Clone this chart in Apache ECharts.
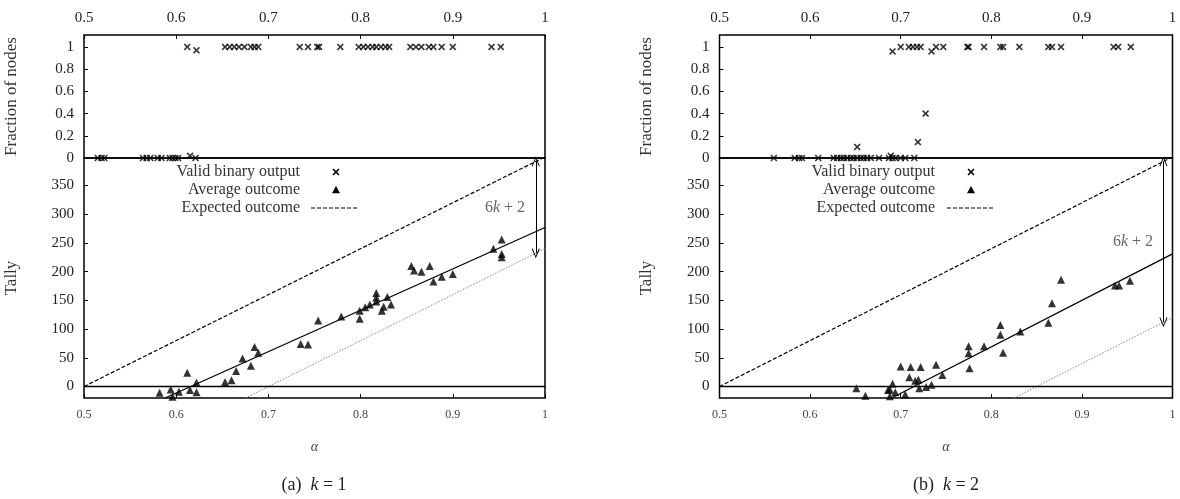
<!DOCTYPE html>
<html>
<head>
<meta charset="utf-8">
<script src="https://cdn.jsdelivr.net/npm/echarts@6/dist/echarts.min.js"></script>
<style>
html, body { margin: 0; padding: 0; background: #fff; }
#main { width: 1180px; height: 499px; }
</style>
</head>
<body>
<div id="main"></div>
<script>
var FONT = '"Liberation Serif", "DejaVu Serif", serif';

// ---- data ----
var fracTicks = [0, 0.2, 0.4, 0.6, 0.8, 1];
var tallyTicks = [0, 50, 100, 150, 200, 250, 300, 350];

// k = 1
var validK1 = [
    [0.515, 0], [0.519, 0], [0.522, 0], [0.564, 0], [0.568, 0], [0.572, 0], [0.580, 0], [0.584, 0],
    [0.593, 0], [0.596, 0], [0.599, 0], [0.602, 0], [0.615, 0.02], [0.621, 0],
    [0.612, 1], [0.622, 0.97], [0.653, 1], [0.658, 1], [0.663, 1], [0.668, 1], [0.674, 1], [0.681, 1],
    [0.685, 1], [0.689, 1], [0.734, 1], [0.743, 1], [0.753, 1], [0.755, 1], [0.778, 1], [0.798, 1],
    [0.803, 1], [0.808, 1], [0.813, 1], [0.817, 1], [0.822, 1], [0.827, 1], [0.831, 1], [0.854, 1],
    [0.860, 1], [0.866, 1], [0.874, 1], [0.879, 1], [0.888, 1], [0.900, 1], [0.942, 1], [0.952, 1]
];
var avgK1 = [
    [0.582, -11], [0.594, -5], [0.596, -18], [0.603, -9], [0.612, 24], [0.615, -6], [0.622, 7],
    [0.622, -10], [0.653, 8], [0.660, 11], [0.665, 27], [0.672, 49], [0.681, 36], [0.685, 69],
    [0.689, 59], [0.735, 74], [0.743, 73], [0.754, 115], [0.779, 122], [0.799, 132], [0.799, 118],
    [0.805, 138], [0.810, 143], [0.817, 163], [0.817, 155], [0.817, 148], [0.823, 132], [0.825, 139],
    [0.829, 156], [0.833, 143], [0.855, 210], [0.858, 202], [0.866, 200], [0.875, 210], [0.879, 183],
    [0.888, 191], [0.900, 196], [0.944, 240], [0.953, 256], [0.953, 231], [0.953, 225]
];
var expectedK1 = [[0.5, 0], [1, 400]];
var lowerK1 = [[0.675, -20], [1, 240]];
var fitK1 = [[0.588, -20], [1, 277]];
var arrowK1 = [[0.99, 392], [0.99, 232]];

// k = 2
var validK2 = [
    [0.560, 0], [0.583, 0], [0.588, 0], [0.591, 0], [0.609, 0], [0.626, 0], [0.630, 0], [0.634, 0],
    [0.637, 0], [0.641, 0], [0.645, 0], [0.648, 0], [0.652, 0], [0.656, 0], [0.659, 0], [0.663, 0],
    [0.667, 0], [0.676, 0], [0.687, 0], [0.689, 0.02], [0.691, 0], [0.694, 0], [0.700, 0], [0.705, 0],
    [0.715, 0], [0.652, 0.10], [0.719, 0.144], [0.7275, 0.40],
    [0.691, 0.96], [0.700, 1], [0.709, 1], [0.7135, 1], [0.718, 1], [0.722, 1], [0.734, 0.96],
    [0.739, 1], [0.747, 1], [0.7735, 1], [0.775, 1], [0.792, 1], [0.810, 1], [0.813, 1], [0.831, 1],
    [0.863, 1], [0.867, 1], [0.877, 1], [0.935, 1], [0.940, 1], [0.954, 1]
];
var avgK2 = [
    [0.651, -3], [0.661, -16], [0.686, -6], [0.688, -5], [0.688, -17], [0.691, 5], [0.694, -10],
    [0.700, 35], [0.705, -14], [0.7095, 16], [0.711, 34], [0.716, 10], [0.7195, 12], [0.7205, -3],
    [0.722, 34], [0.728, -1], [0.734, 3], [0.739, 38], [0.746, 20], [0.775, 70], [0.775, 58],
    [0.776, 32], [0.792, 70], [0.810, 107], [0.810, 90], [0.813, 59], [0.832, 96], [0.863, 111],
    [0.867, 145], [0.877, 186], [0.9365, 176], [0.941, 176], [0.953, 184]
];
var expectedK2 = [[0.5, 0], [1, 400]];
var lowerK2 = [[0.825, -20], [1, 120]];
var fitK2 = [[0.69, -20], [1, 231]];
var arrowK2 = [[0.99, 392], [0.99, 112]];

var zeroLine = [[0.5, 0], [1, 0]];

// ---- chart ----
var CROSS = 'path://M0,1.6L1.6,0L5,3.4L8.4,0L10,1.6L6.6,5L10,8.4L8.4,10L5,6.6L1.6,10L0,8.4L3.4,5Z';
var OPEN_ARROW = 'path://M0,10L5,0L10,10L9,10.6L5,2.4L1,10.6Z';

var grids = [
    { left: 84, top: 35, width: 461, height: 123 },
    { left: 84, top: 158, width: 461, height: 240 },
    { left: 719.5, top: 35, width: 453, height: 123 },
    { left: 719.5, top: 158, width: 453, height: 240 }
];
grids.forEach(function(g) {
    g.show = true;
    g.borderColor = '#000';
    g.borderWidth = 1.5;
    g.containLabel = false;
});

function xAxis(i, top) {
    return {
        type: 'value', gridIndex: i, min: 0.5, max: 1, interval: 0.1,
        position: top ? 'top' : 'bottom',
        axisLine: { show: false, onZero: false },
        axisTick: { show: true, inside: true, length: 4, lineStyle: { color: '#000', width: 1 } },
        splitLine: { show: false },
        axisLabel: {
            show: true, color: top ? '#222' : '#444', fontFamily: FONT,
            fontSize: top ? 15 : 12, margin: top ? 9 : 11,
            formatter: function(v) { return v == 1 ? '1' : v.toFixed(1); }
        },
        name: top ? '' : 'α',
        nameLocation: 'middle', nameGap: 42,
        nameTextStyle: { fontFamily: FONT, fontStyle: 'italic', fontSize: 14, color: '#444' }
    };
}

function yAxis(i, frac) {
    var ticks = frac ? fracTicks : tallyTicks;
    return {
        type: 'value', gridIndex: i,
        min: frac ? 0 : -20, max: frac ? 1.108 : 398,
        axisLine: { show: false, onZero: false },
        axisTick: { show: true, inside: true, length: 4, customValues: ticks, lineStyle: { color: '#000' } },
        splitLine: { show: false },
        axisLabel: { color: '#222', fontFamily: FONT, fontSize: 15, margin: 10, customValues: ticks },
        name: frac ? 'Fraction of nodes' : 'Tally',
        nameLocation: 'middle', nameGap: 64,
        nameTextStyle: { fontFamily: FONT, fontSize: 17, color: '#333' }
    };
}

function lineSeries(data, xi, color, type, width) {
    return {
        type: 'line', data: data, xAxisIndex: xi, yAxisIndex: xi,
        symbol: 'none', clip: true, silent: true,
        lineStyle: { color: color, type: type, width: width }
    };
}

function panelSeries(top, bottom, valid, avg, expected, lower, fit, arrow) {
    var list = [];
    list.push({
        type: 'scatter', data: valid, xAxisIndex: top, yAxisIndex: top,
        symbol: CROSS, symbolSize: 7, itemStyle: { color: '#000' }, clip: false
    });
    list.push(lineSeries(expected, bottom, '#000', [4, 2], 1.2));
    list.push(lineSeries(lower, bottom, '#888', [1.5, 1.5], 1));
    list.push(lineSeries(fit, bottom, '#000', 'solid', 1.3));
    var z = lineSeries(zeroLine, bottom, '#000', 'solid', 1.5);
    z.markLine = {
        silent: true, symbol: [OPEN_ARROW, OPEN_ARROW], symbolSize: [8, 10],
        lineStyle: { color: '#000', type: 'solid', width: 1 },
        itemStyle: { color: '#000' },
        label: { show: false },
        data: [[{ coord: arrow[0] }, { coord: arrow[1] }]]
    };
    list.push(z);
    list.push({
        type: 'scatter', data: avg, xAxisIndex: bottom, yAxisIndex: bottom,
        symbol: 'triangle', symbolSize: 8, itemStyle: { color: '#000' }
    });
    return list;
}

var series = [].concat(
    panelSeries(0, 1, validK1, avgK1, expectedK1, lowerK1, fitK1, arrowK1),
    panelSeries(2, 3, validK2, avgK2, expectedK2, lowerK2, fitK2, arrowK2)
);

function legendGraphics(textRight, symX, lineL, lineR) {
    var names = ['Valid binary output', 'Average outcome', 'Expected outcome'];
    var ys = [172, 190, 208];
    var g = [];
    names.forEach(function(n, i) {
        g.push({
            type: 'text', x: textRight, y: ys[i],
            style: { text: n, textAlign: 'right', textVerticalAlign: 'middle', font: '16px ' + FONT, fill: '#333' }
        });
    });
    g.push({
        type: 'polygon', x: symX, y: ys[0],
        shape: { points: [[-3.5, -2.4], [-2.4, -3.5], [0, -1.1], [2.4, -3.5], [3.5, -2.4], [1.1, 0], [3.5, 2.4], [2.4, 3.5], [0, 1.1], [-2.4, 3.5], [-3.5, 2.4], [-1.1, 0]] },
        style: { fill: '#000' }
    });
    g.push({
        type: 'polygon', x: symX, y: ys[1],
        shape: { points: [[0, -4], [4, 3.2], [-4, 3.2]] },
        style: { fill: '#000' }
    });
    g.push({
        type: 'line', shape: { x1: lineL, y1: ys[2], x2: lineR, y2: ys[2] },
        style: { stroke: '#000', lineWidth: 1.2, lineDash: [4, 2] }
    });
    return g;
}

function richLabel(x, y, text, size, color) {
    return {
        type: 'text', x: x, y: y,
        style: {
            text: text, textAlign: 'center', textVerticalAlign: 'middle',
            font: size + 'px ' + FONT, fill: color,
            rich: {
                i: { fontFamily: FONT, fontStyle: 'italic', fontSize: size, fill: color, color: color }
            }
        }
    };
}

var graphics = [].concat(
    legendGraphics(300, 336, 311, 358),
    legendGraphics(935, 971, 947, 993),
    [
        richLabel(505, 208, '6{i|k} + 2', 16, '#666'),
        richLabel(1133, 242, '6{i|k} + 2', 16, '#666'),
        richLabel(314, 485, '(a)  {i|k} = 1', 18, '#222'),
        richLabel(946, 485, '(b)  {i|k} = 2', 18, '#222')
    ]
);

var myChart = echarts.init(document.getElementById('main'));
var option = {
    animation: false,
    backgroundColor: '#fff',
    grid: grids,
    xAxis: [xAxis(0, true), xAxis(1, false), xAxis(2, true), xAxis(3, false)],
    yAxis: [yAxis(0, true), yAxis(1, false), yAxis(2, true), yAxis(3, false)],
    series: series,
    graphic: graphics
};
myChart.setOption(option);
</script>
</body>
</html>
